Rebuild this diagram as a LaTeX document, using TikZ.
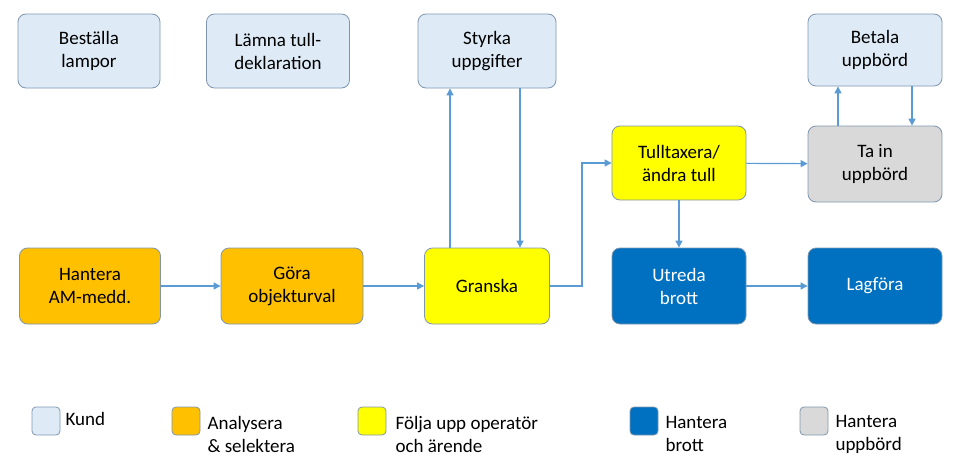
\documentclass[tikz,border=0pt]{standalone}
\usepackage{fontspec}
\setmainfont{Carlito}
\usetikzlibrary{arrows.meta}
\definecolor{kund}{HTML}{DEEBF7}
\definecolor{orng}{HTML}{FFC000}
\definecolor{yel}{HTML}{FFFF00}
\definecolor{blu}{HTML}{0070C0}
\definecolor{gry}{HTML}{D9D9D9}
\definecolor{bord}{HTML}{7F96AE}
\definecolor{arr}{HTML}{5B9BD5}
\begin{document}
\begin{tikzpicture}[x=1pt,y=-1pt,
 box/.style={draw=bord,line width=0.8pt,rounded corners=8pt,align=center,font=\fontsize{19}{23}\selectfont},
 leg/.style={draw=bord,line width=0.8pt,rounded corners=4pt,minimum width=28pt,minimum height=28pt},
 lt/.style={anchor=west,align=left,font=\fontsize{19}{23}\selectfont},
 ar/.style={draw=arr,line width=1.2pt,-{Triangle[length=7pt,width=7pt]}}]
\useasboundingbox (0,0) rectangle (956,474);
\node[box,fill=kund,minimum width=142,minimum height=74] (a) at (89,51) {Beställa\\lampor};
\node[box,fill=kund,minimum width=143,minimum height=74] (b) at (278,51) {Lämna tull-\\deklaration};
\node[box,fill=kund,minimum width=138,minimum height=74] (s) at (487,51) {Styrka\\uppgifter};
\node[box,fill=kund,minimum width=134,minimum height=72] (bet) at (875,50) {Betala\\uppbörd};
\node[box,fill=yel,minimum width=134,minimum height=74] (t) at (679,163) {Tulltaxera/\\ändra tull};
\node[box,fill=gry,minimum width=134,minimum height=76] (ta) at (875,164) {Ta in\\uppbörd};
\node[box,fill=orng,minimum width=141,minimum height=76] (h) at (90,286) {Hantera\\AM-medd.};
\node[box,fill=orng,minimum width=142,minimum height=76] (g) at (292,286) {Göra\\objekturval};
\node[box,fill=yel,minimum width=125,minimum height=76] (gr) at (487,286) {Granska};
\node[box,fill=blu,text=white,minimum width=134,minimum height=76] (u) at (679,286) {Utreda\\brott};
\node[box,fill=blu,text=white,minimum width=134,minimum height=76] (l) at (875,286) {Lagföra};
\draw[ar] (h) -- (g);
\draw[ar] (g) -- (gr);
\draw[ar] (gr.north -| 450,0) -- (s.south -| 450,0);
\draw[ar] (s.south -| 520,0) -- (gr.north -| 520,0);
\draw[ar] (gr.east) -- (582,286) -- (582,163) -- (t.west);
\draw[ar] (t) -- (ta);
\draw[ar] (t) -- (u);
\draw[ar] (u) -- (l);
\draw[ar] (ta.north -| 838,0) -- (bet.south -| 838,0);
\draw[ar] (bet.south -| 912,0) -- (ta.north -| 912,0);
\node[leg,fill=kund] (k1) at (46,421) {};
\node[lt] (k1t) at (62,419) {Kund};
\node[leg,fill=orng] (k2) at (186,421) {};
\node[lt] (k2t) at (204,434) {Analysera\\\&{} selektera};
\node[leg,fill=yel] (k3) at (372,421) {};
\node[lt] (k3t) at (392,434) {Följa upp operatör\\och ärende};
\node[leg,fill=blu] (k4) at (644,421) {};
\node[lt] (k4t) at (662,434) {Hantera\\brott};
\node[leg,fill=gry] (k5) at (814,421) {};
\node[lt] (k5t) at (832,434) {Hantera\\uppbörd};
\end{tikzpicture}
\end{document}
